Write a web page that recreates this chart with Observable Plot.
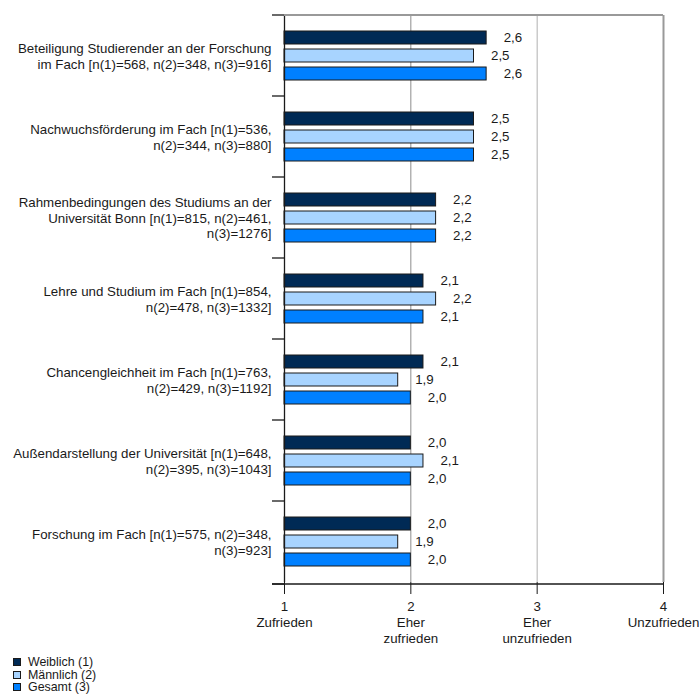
<!DOCTYPE html>
<html><head><meta charset="utf-8">
<script src="https://cdn.jsdelivr.net/npm/d3@7"></script>
<script src="https://cdn.jsdelivr.net/npm/@observablehq/plot@0.6"></script>
<style>
body{margin:0;background:#fff;font-family:"Liberation Sans",Arial,sans-serif;}
#chart svg{display:block}
#legend{padding-left:13px;font-size:12.4px;color:#1a1a1a}
.row{height:12.5px;line-height:12.5px;display:flex;align-items:center}
.sw{width:6px;height:6px;border:1px solid #1a1a1a;margin-right:7px}
</style></head><body><div id="chart"></div><div id="legend"></div>
<script>
const categories = [
  "Beteiligung Studierender an der Forschung\nim Fach [n(1)=568, n(2)=348, n(3)=916]",
  "Nachwuchsförderung im Fach [n(1)=536,\nn(2)=344, n(3)=880]",
  "Rahmenbedingungen des Studiums an der\nUniversität Bonn [n(1)=815, n(2)=461,\nn(3)=1276]",
  "Lehre und Studium im Fach [n(1)=854,\nn(2)=478, n(3)=1332]",
  "Chancengleichheit im Fach [n(1)=763,\nn(2)=429, n(3)=1192]",
  "Außendarstellung der Universität [n(1)=648,\nn(2)=395, n(3)=1043]",
  "Forschung im Fach [n(1)=575, n(2)=348,\nn(3)=923]"
];
const series = ["Weiblich (1)", "Männlich (2)", "Gesamt (3)"];
const weiblich  = [2.6, 2.5, 2.2, 2.1, 2.1, 2.0, 2.0];
const maennlich = [2.5, 2.5, 2.2, 2.2, 1.9, 2.1, 1.9];
const gesamt    = [2.6, 2.5, 2.2, 2.1, 2.0, 2.0, 2.0];
const colors = ["#002a55", "#a8d4ff", "#0080ff"];
const xTicks = [1, 2, 3, 4];
const xTickLabels = ["1\nZufrieden", "2\nEher\nzufrieden", "3\nEher\nunzufrieden", "4\nUnzufrieden"];

const valueSets = [weiblich, maennlich, gesamt];
const data = categories.flatMap((c, i) => series.map((s, j) => ({cat: c, series: s, value: valueSets[j][i]})));
const fmt = v => d3.format(".1f")(v).replace(".", ",");
const ink = "#1a1a1a";

const plot = Plot.plot({
  width: 700, height: 656,
  marginTop: 13, marginBottom: 72, marginLeft: 284, marginRight: 37,
  style: {fontFamily: '"Liberation Sans", Arial, sans-serif', fontSize: "13.3px", color: ink, background: "white", overflow: "visible"},
  x: {domain: [1, 4], axis: null},
  y: {domain: series, paddingInner: 0.28, paddingOuter: 0.785, axis: null},
  fy: {domain: categories, padding: 0, axis: null},
  color: {domain: series, range: colors},
  marks: [
    Plot.ruleX([2], {stroke: "#8c8c8c"}),
    Plot.ruleX([3], {stroke: "#b0b0b0"}),
    Plot.ruleX([4], {stroke: "#999", strokeWidth: 2}),
    Plot.barX(data, {fy: "cat", y: "series", x1: 1, x2: "value", fill: "series", stroke: ink, strokeWidth: 1}),
    Plot.text(data, {fy: "cat", y: "series", x: "value", text: d => fmt(d.value), dx: 17, textAnchor: "start", fill: ink}),
    Plot.ruleX([1], {stroke: ink, strokeWidth: 1.3}),
    Plot.axisX(xTicks, {anchor: "bottom", tickSize: 12, tickPadding: 5, stroke: ink,
      tickFormat: d => xTickLabels[xTicks.indexOf(d)], lineHeight: 1.2, label: null}),
    Plot.axisFy({anchor: "left", tickSize: 0, tickPadding: 13, lineHeight: 1.165, label: null})
  ]
});
document.getElementById("chart").appendChild(plot);

// band boundary ticks, top border and bottom axis line, from the plot's own scales
const fy = plot.scale("fy"), xs = plot.scale("x");
const x0 = xs.apply(1), x4 = xs.apply(4);
const bounds = categories.map(c => fy.apply(c)).concat([fy.range[1]]);
const svg = d3.select(plot);
const g = svg.append("g");
g.append("line").attr("x1", x0).attr("x2", x4).attr("y1", bounds[0]).attr("y2", bounds[0]).attr("stroke", "#999").attr("stroke-width", 2);
g.selectAll("line.tk").data(bounds).join("line").attr("class", "tk")
  .attr("x1", x0 - 12).attr("x2", x0).attr("y1", d => d).attr("y2", d => d).attr("stroke", ink).attr("stroke-width", 1.3);
g.append("line").attr("x1", x0 - 12).attr("x2", x4).attr("y1", bounds.at(-1)).attr("y2", bounds.at(-1)).attr("stroke", ink).attr("stroke-width", 1.5);

// legend
const leg = d3.select("#legend");
series.forEach((s, j) => {
  const r = leg.append("div").attr("class", "row");
  r.append("div").attr("class", "sw").style("background", colors[j]);
  r.append("span").text(s);
});
</script></body></html>
